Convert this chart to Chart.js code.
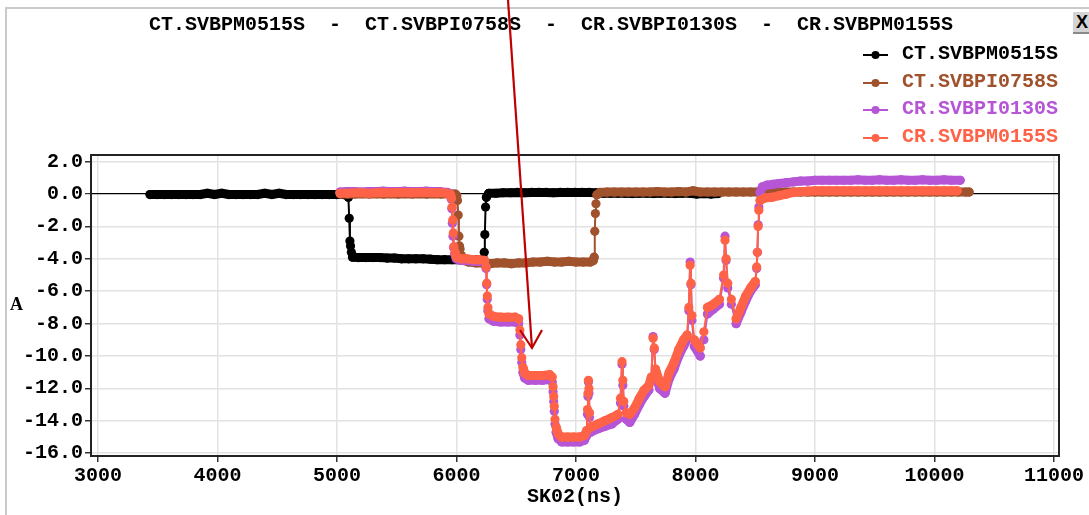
<!DOCTYPE html>
<html>
<head>
<meta charset="utf-8">
<script src="https://cdn.jsdelivr.net/npm/chart.js@4.4.0/dist/chart.umd.min.js"></script>
<style>
  body { margin: 0; background: #fff; }
  #wrap { position: relative; width: 1089px; height: 515px; overflow: hidden;
          font-family: "Liberation Mono", monospace; font-weight: bold; }
  #myChart { position: absolute; left: 0; top: 0; }
  .edge-top { position: absolute; left: 5px; top: 7px; width: 1084px; border-top: 2px solid #cacaca; }
  .edge-left { position: absolute; left: 5px; top: 7px; height: 508px; border-left: 2px solid #cacaca; }
  #title { position: absolute; left: 0; top: 13px; width: 1102px; text-align: center;
           font-size: 20px; white-space: pre; color: #000; }
  #legend { position: absolute; left: 860px; top: 0; }
  .leg-row { position: absolute; left: 0; width: 230px; height: 24px; line-height: 24px; font-size: 20px; white-space: pre; }
  .leg-row svg { position: absolute; left: 0; top: 0; }
  .leg-row span { position: absolute; left: 42px; top: 0; }
  #ylabel { position: absolute; left: 10px; top: 294px; font-family: "Liberation Serif", serif; font-size: 18px; }
  #closeBtn { position: absolute; left: 1073px; top: 12px; width: 18px; height: 20px; background: #d4d4d4;
              border-bottom: 2px solid #8a8a8a; font-family: "Liberation Sans", sans-serif; font-size: 18px;
              line-height: 20px; text-align: center; }
  #arrow { position: absolute; left: 0; top: 0; pointer-events: none; }
</style>
</head>
<body>
<div id="wrap">
  <canvas id="myChart" width="1089" height="515"></canvas>
  <div class="edge-top"></div>
  <div class="edge-left"></div>
  <div id="title"></div>
  <div id="legend"></div>
  <div id="ylabel">A</div>
  <div id="closeBtn">X</div>
  <svg id="arrow" width="1089" height="515">
    <line x1="508" y1="0" x2="532" y2="348" stroke="#c00000" stroke-width="2.2"/>
    <polyline points="520,330 532,348 542,330" fill="none" stroke="#c00000" stroke-width="2.2"/>
  </svg>
</div>
<script>
// series names / colours
const seriesNames = ["CT.SVBPM0515S", "CT.SVBPI0758S", "CR.SVBPI0130S", "CR.SVBPM0155S"];
const seriesColors = ["#000000", "#a0522d", "#b655d6", "#ff6347"];

// tick labels
const xTicks = [3000, 4000, 5000, 6000, 7000, 8000, 9000, 10000, 11000];
const yTicks = [2, 0, -2, -4, -6, -8, -10, -12, -14, -16];

// [SK02(ns), A]
const ctSvbpm0515s = [
  [3435,-0.03],[3495,-0.03],[3555,-0.03],[3615,-0.03],[3675,-0.03],[3735,-0.03],[3795,-0.03],[3855,-0.03],[3915,0.05],[3975,-0.03],
  [4035,0.05],[4095,-0.03],[4155,-0.03],[4215,-0.03],[4275,-0.03],[4335,-0.03],[4395,0.05],[4455,-0.03],[4515,0.05],[4575,-0.03],
  [4635,-0.03],[4695,-0.03],[4755,-0.03],[4815,-0.03],[4875,-0.03],[4935,-0.03],[4995,-0.03],[5055,-0.03],[5085,-0.05],
  [5095,-0.2],[5102,-1.5],[5108,-2.9],[5113,-3.2],[5120,-3.6],[5130,-3.9],
  [5180,-3.92],[5240,-3.92],[5300,-3.92],[5360,-3.92],[5420,-3.95],[5480,-3.95],[5540,-4.0],[5600,-4.0],[5660,-4.0],
  [5720,-4.0],[5780,-4.02],[5840,-4.05],[5900,-4.05],[5960,-4.05],[6020,-4.05],[6080,-4.05],[6140,-4.05],[6200,-4.05],[6225,-4.0],
  [6232,-3.6],[6237,-2.5],[6243,-0.8],[6250,-0.2],[6270,0.05],
  [6330,0.05],[6390,0.08],[6450,0.08],[6510,0.1],[6570,0.08],[6630,0.1],[6690,0.1],[6750,0.1],[6810,0.08],[6870,0.1],
  [6930,0.1],[6990,0.1],[7050,0.1],[7110,0.1],[7170,0.08],[7230,0.05],[7290,0.05],[7350,0.05],[7410,0.05],[7470,0.03],
  [7530,0.05],[7590,0.05],[7650,0.03],[7710,0.05],[7770,0.05],[7830,0.03],[7890,0.05],[7950,0.05],[8010,0.0],[8070,0.03],
  [8130,0.0],[8190,0.03]
];

const ctSvbpi0758s = [
  [5030,0.0],[5090,0.0],[5150,0.0],[5210,0.02],[5270,0.0],[5330,0.02],[5390,0.0],[5450,0.02],[5510,0.0],[5570,0.02],
  [5630,0.0],[5690,0.02],[5750,0.0],[5810,0.02],[5870,0.0],[5930,0.02],[5990,0.0],
  [6002,-0.1],[6008,-0.4],[6014,-1.3],[6020,-2.6],[6025,-3.2],[6030,-3.4],[6040,-3.8],[6060,-4.1],[6100,-4.2],
  [6160,-4.25],[6220,-4.25],[6280,-4.3],[6340,-4.25],[6400,-4.25],[6460,-4.3],[6520,-4.25],[6580,-4.25],[6640,-4.2],
  [6700,-4.2],[6760,-4.15],[6820,-4.2],[6880,-4.2],[6940,-4.15],[7000,-4.2],[7060,-4.2],[7120,-4.2],[7145,-4.1],
  [7152,-3.9],[7157,-2.3],[7162,-1.2],[7167,-0.6],[7175,-0.05],[7200,0.1],
  [7260,0.12],[7320,0.12],[7380,0.12],[7440,0.12],[7500,0.12],[7560,0.12],[7620,0.12],[7680,0.15],[7740,0.12],[7800,0.12],
  [7860,0.15],[7920,0.12],[7980,0.2],[8040,0.12],[8100,0.12],[8160,0.12],[8220,0.12],[8280,0.12],[8340,0.12],[8400,0.12],
  [8460,0.12],[8520,0.12],[8580,0.12],[8640,0.12],[8700,0.12],[8760,0.12],[8820,0.12],[8880,0.12],[8940,0.12],[9000,0.12],
  [9060,0.12],[9120,0.12],[9180,0.12],[9240,0.12],[9300,0.12],[9360,0.12],[9420,0.12],[9480,0.12],[9540,0.12],[9600,0.12],
  [9660,0.12],[9720,0.12],[9780,0.12],[9840,0.12],[9900,0.12],[9960,0.12],[10020,0.12],[10080,0.12],[10140,0.12],[10200,0.12],
  [10260,0.12],[10290,0.12]
];

const crSvbpi0130s = [
  [5025,0.12],[5085,0.15],[5145,0.15],[5205,0.12],[5265,0.15],[5325,0.15],[5385,0.18],[5445,0.15],[5505,0.15],[5565,0.18],
  [5625,0.15],[5685,0.15],[5745,0.18],[5805,0.15],[5865,0.15],[5925,0.1],[5948,0.0],
  [5955,-0.3],[5960,-0.9],[5965,-1.8],[5970,-2.6],[5975,-3.3],[5985,-3.7],[5998,-4.0],
  [6040,-4.1],[6090,-4.1],[6140,-4.15],[6190,-4.15],[6235,-4.2],
  [6247,-4.6],[6252,-5.6],[6257,-6.5],[6262,-7.2],[6272,-7.7],
  [6310,-7.85],[6370,-7.9],[6430,-7.9],[6490,-7.9],[6520,-8.0],
  [6530,-8.7],[6538,-9.6],[6546,-10.4],[6556,-11.0],[6570,-11.35],
  [6600,-11.5],[6660,-11.5],[6720,-11.5],[6780,-11.45],[6800,-11.6],
  [6808,-12.2],[6813,-12.8],[6818,-13.4],[6824,-14.2],[6834,-14.7],[6850,-15.1],
  [6880,-15.3],[6930,-15.3],[6980,-15.3],[7030,-15.3],[7070,-15.2],[7090,-14.9],
  [7096,-13.6],[7100,-12.5],[7104,-11.6],[7108,-12.3],[7113,-13.8],[7122,-14.7],
  [7180,-14.5],[7240,-14.35],[7300,-14.2],[7350,-13.9],[7372,-12.9],[7385,-10.5],[7392,-11.8],[7400,-13.1],[7420,-13.9],
  [7450,-14.1],[7490,-13.6],[7530,-13.0],[7570,-12.5],[7610,-12.1],
  [7630,-11.5],[7645,-8.8],[7655,-9.6],[7665,-11.1],[7700,-12.0],[7745,-12.3],
  [7780,-11.4],[7820,-10.8],[7860,-10.0],[7900,-9.4],[7930,-9.0],
  [7944,-7.2],[7955,-4.2],[7962,-5.6],[7970,-7.8],[7990,-9.4],[8040,-10.0],
  [8070,-9.0],[8100,-7.4],[8150,-7.1],[8200,-6.8],
  [8235,-5.2],[8247,-2.6],[8256,-4.1],[8270,-5.8],[8300,-6.8],[8340,-8.0],
  [8380,-7.3],[8420,-6.6],[8460,-6.0],[8500,-5.6],
  [8512,-4.6],[8518,-3.6],[8524,-1.9],[8530,-0.8],[8540,0.1],
  [8560,0.45],[8600,0.55],[8650,0.6],[8700,0.65],[8760,0.7],[8820,0.75],[8880,0.8],[8940,0.8],[9000,0.85],[9060,0.85],
  [9120,0.85],[9180,0.85],[9240,0.85],[9300,0.85],[9360,0.88],[9420,0.85],[9480,0.85],[9540,0.88],[9600,0.85],[9660,0.85],
  [9720,0.88],[9780,0.85],[9840,0.85],[9900,0.88],[9960,0.85],[10020,0.85],[10080,0.88],[10140,0.85],[10215,0.85]
];

const crSvbpm0155s = [
  [5025,0.05],[5085,0.05],[5145,0.08],[5205,0.08],[5265,0.05],[5325,0.08],[5385,0.1],[5445,0.08],[5505,0.1],[5565,0.1],
  [5625,0.08],[5685,0.1],[5745,0.1],[5805,0.08],[5865,0.1],[5925,0.05],[5950,-0.05],
  [5958,-0.25],[5963,-0.8],[5968,-1.6],[5973,-2.4],[5978,-3.25],[5988,-3.6],[6000,-3.9],
  [6040,-4.0],[6090,-4.0],[6140,-4.05],[6190,-4.05],[6235,-4.1],
  [6248,-4.5],[6253,-5.5],[6258,-6.3],[6263,-7.0],[6272,-7.4],
  [6310,-7.55],[6370,-7.6],[6430,-7.6],[6490,-7.6],[6520,-7.7],
  [6530,-8.4],[6538,-9.3],[6546,-10.1],[6556,-10.7],[6570,-11.05],
  [6600,-11.2],[6660,-11.2],[6720,-11.2],[6780,-11.15],[6800,-11.3],
  [6808,-11.9],[6813,-12.5],[6818,-13.1],[6824,-13.9],[6834,-14.4],[6850,-14.8],
  [6880,-15.0],[6930,-15.0],[6980,-15.0],[7030,-15.0],[7070,-14.9],[7090,-14.6],
  [7096,-13.3],[7100,-12.3],[7104,-11.5],[7108,-12.0],[7113,-13.5],[7122,-14.4],
  [7180,-14.2],[7240,-14.0],[7300,-13.8],[7350,-13.6],[7372,-12.6],[7385,-10.35],[7392,-11.5],[7400,-12.8],[7420,-13.5],
  [7450,-13.6],[7490,-13.2],[7530,-12.6],[7570,-12.1],[7610,-11.8],
  [7630,-11.3],[7645,-8.9],[7655,-9.5],[7665,-10.8],[7700,-11.6],[7745,-11.9],
  [7780,-11.0],[7820,-10.4],[7860,-9.6],[7900,-9.0],[7930,-8.7],
  [7944,-7.0],[7955,-4.4],[7962,-5.5],[7970,-7.5],[7990,-9.0],[8040,-9.5],
  [8070,-8.5],[8100,-7.0],[8150,-6.8],[8200,-6.5],
  [8235,-5.0],[8247,-2.85],[8256,-4.0],[8270,-5.5],[8300,-6.5],[8340,-7.7],
  [8380,-7.0],[8420,-6.3],[8460,-5.8],[8500,-5.4],
  [8512,-4.5],[8518,-3.6],[8524,-2.0],[8530,-1.0],[8540,-0.4],
  [8580,-0.25],[8640,-0.2],[8700,-0.1],[8760,0.0],[8820,0.1],[8880,0.14],
  [8940,0.18],[9000,0.2],[9060,0.2],[9120,0.2],[9180,0.2],[9240,0.2],[9300,0.2],[9360,0.2],[9420,0.2],[9480,0.2],
  [9540,0.2],[9600,0.2],[9660,0.2],[9720,0.2],[9780,0.2],[9840,0.2],[9900,0.2],[9960,0.2],[10020,0.2],[10080,0.2],
  [10140,0.2],[10190,0.2]
];

const seriesData = [ctSvbpm0515s, ctSvbpi0758s, crSvbpi0130s, crSvbpm0155s];

const tickFont = { family: "Liberation Mono", weight: "bold", size: 20 };

// dense samples show as a thick band, steep jumps as a thin line with dots
function segWidth(c) {
  const dx = Math.abs(c.p1.x - c.p0.x);
  const dy = Math.abs(c.p1.y - c.p0.y);
  return dy <= dx * 4 ? 9 : 2;
}

// frame round the plot area
const frameBox = {
  id: "frameBox",
  afterDraw(chart) {
    const a = chart.chartArea;
    const c = chart.ctx;
    c.save();
    c.strokeStyle = "#222";
    c.lineWidth = 2;
    c.strokeRect(a.left, a.top, a.right - a.left, a.bottom - a.top);
    c.restore();
  }
};

const ctx = document.getElementById("myChart").getContext("2d");

const myChart = new Chart(ctx, {
  type: "line",
  data: {
    datasets: seriesData.map((d, i) => ({
      label: seriesNames[i],
      data: d,
      borderColor: seriesColors[i],
      backgroundColor: seriesColors[i],
      pointBackgroundColor: seriesColors[i],
      pointBorderWidth: 0,
      pointRadius: 4.6,
      borderWidth: 2,
      borderCapStyle: "round",
      borderJoinStyle: "round",
      segment: { borderWidth: segWidth },
      tension: 0,
      order: 4 - i,
    })),
  },
  options: {
    responsive: false,
    animation: false,
    events: [],
    layout: { padding: { top: 155, right: 30, left: 0, bottom: 0 } },
    plugins: {
      legend: { display: false },
      title: { display: false },
      tooltip: { enabled: false },
    },
    scales: {
      x: {
        type: "linear",
        min: 2941,
        max: 11042,
        afterBuildTicks: (scale) => { scale.ticks = xTicks.map((v) => ({ value: v })); },
        afterFit: (scale) => { scale.height = 59; },
        border: { display: false },
        grid: { color: "#e2e2e2", lineWidth: 1.5, tickColor: "#333", tickLength: 6 },
        ticks: { font: tickFont, color: "#000", padding: 2, maxRotation: 0, callback: (v) => String(v) },
        title: { display: true, text: "SK02(ns)", font: tickFont, color: "#000", padding: { top: 0, bottom: 6 } },
      },
      y: {
        min: -16.17,
        max: 2.41,
        afterBuildTicks: (scale) => { scale.ticks = yTicks.map((v) => ({ value: v })); },
        afterFit: (scale) => { scale.width = 91; },
        border: { display: false },
        grid: {
          color: (c) => (c.tick && c.tick.value === 0 ? "#000" : "#e2e2e2"),
          lineWidth: (c) => (c.tick && c.tick.value === 0 ? 1.2 : 1.5),
          tickColor: "#333",
          tickLength: 6,
        },
        ticks: { font: tickFont, color: "#000", padding: 2, callback: (v) => v.toFixed(1) },
      },
    },
  },
  plugins: [frameBox],
});

// title and legend as page text
document.getElementById("title").textContent = seriesNames.join("  -  ");

const legendRows = [54, 82, 109, 137];
const legendBox = document.getElementById("legend");
seriesNames.forEach((name, i) => {
  const row = document.createElement("div");
  row.className = "leg-row";
  row.style.top = (legendRows[i] - 12) + "px";
  row.style.color = seriesColors[i];
  row.innerHTML =
    '<svg width="30" height="24"><line x1="3" y1="13" x2="28" y2="13" stroke="' + seriesColors[i] +
    '" stroke-width="2"/><circle cx="15.5" cy="13" r="4" fill="' + seriesColors[i] + '"/></svg>' +
    "<span>" + name + "</span>";
  legendBox.appendChild(row);
});
</script>
</body>
</html>
